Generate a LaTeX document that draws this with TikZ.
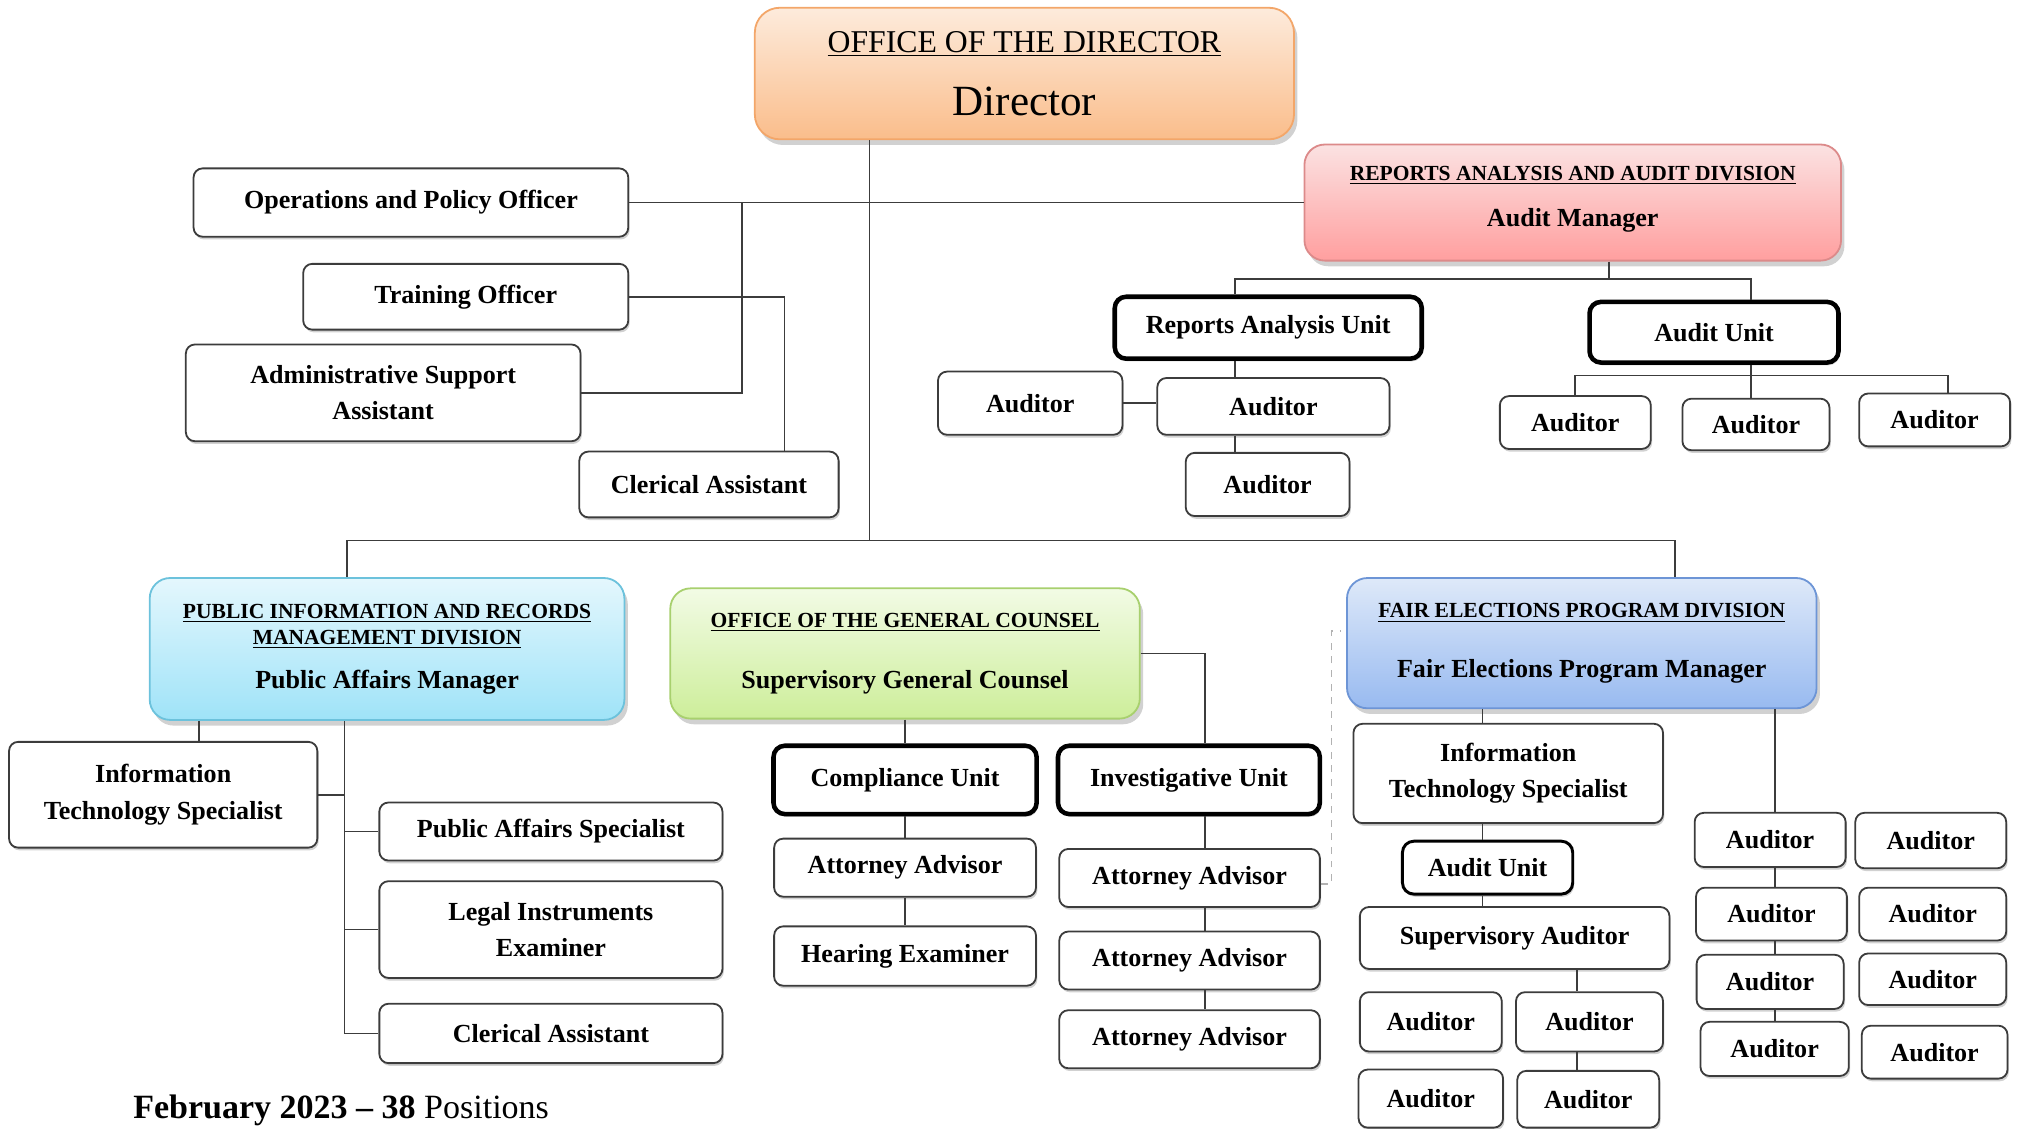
\documentclass[tikz,border=0pt]{standalone}
\usepackage{fontspec}
\setmainfont{Liberation Serif}
\usepackage{xcolor}
\usetikzlibrary{shadows}
\definecolor{linegray}{HTML}{3C3C3C}
\definecolor{dirtop}{HTML}{FDEBDC}
\definecolor{dirbot}{HTML}{FABD8B}
\definecolor{dirline}{HTML}{F3A669}
\definecolor{raadtop}{HTML}{FBE2E2}
\definecolor{raadbot}{HTML}{FF9F9F}
\definecolor{raadline}{HTML}{DC8A8A}
\definecolor{pirtop}{HTML}{E4F7FD}
\definecolor{pirbot}{HTML}{9FE3F8}
\definecolor{pirline}{HTML}{6CC2DC}
\definecolor{ogctop}{HTML}{F2FBE5}
\definecolor{ogcbot}{HTML}{CDEE9A}
\definecolor{ogcline}{HTML}{A8D06E}
\definecolor{feptop}{HTML}{DEE9F9}
\definecolor{fepbot}{HTML}{98BAF0}
\definecolor{fepline}{HTML}{6D95D6}

\begin{document}
\begin{tikzpicture}[
    x=0.02cm, y=-0.02cm,
    dims/.style 2 args={minimum width=#1cm, minimum height=#2cm},
    posbox/.style={rectangle, rounded corners=4pt,
                   draw=linegray, line width=0.8pt, fill=white,
                   font=\fontsize{11.5}{16}\selectfont\bfseries, align=center, inner sep=2pt,
                   drop shadow={shadow xshift=0.6pt, shadow yshift=-1.2pt, opacity=0.3, fill=black!60}},
    unitbox/.style={posbox, draw=black, line width=2pt, rounded corners=5pt},
    divbox/.style={rectangle, rounded corners=9pt, line width=0.8pt,
                   align=center, inner sep=2pt,
                   drop shadow={shadow xshift=1.5pt, shadow yshift=-2.5pt, opacity=0.3, fill=black!60}},
    link/.style={draw=linegray, line width=0.8pt},
    dlink/.style={draw=black!30, line width=0.8pt, dashed},
  ]
    \useasboundingbox (0,0) rectangle (1568,875);

    % director and staff
    \node[divbox, draw=dirline, top color=dirtop, bottom color=dirbot, rounded corners=11pt,
          dims={8.36}{2.04}, font=\fontsize{14}{28}\selectfont] (dir) at (794,57)
          {\underline{OFFICE OF THE DIRECTOR}\\{\fontsize{19}{28}\selectfont Director}};
    \node[posbox, dims={6.74}{1.06}] (ops)   at (318.5,157) {Operations and Policy Officer};
    \node[posbox, dims={5.04}{1.02}] (train) at (361,230)   {Training Officer};
    \node[posbox, dims={6.12}{1.5}]  (admin) at (297,304.5) {Administrative Support\\Assistant};
    \node[posbox, dims={4.02}{1.02}] (cler1) at (549.5,375.5) {Clerical Assistant};

    % reports analysis and audit
    \node[divbox, draw=raadline, top color=raadtop, bottom color=raadbot,
          dims={8.32}{1.8}, font=\fontsize{9.5}{20.5}\selectfont\bfseries] (raad) at (1219,157)
          {\underline{REPORTS ANALYSIS AND AUDIT DIVISION}\\{\fontsize{11.5}{20.5}\selectfont Audit Manager}\\[-15pt]};
    \node[unitbox, dims={4.76}{0.96}] (rau) at (983,254)    {Reports Analysis Unit};
    \node[unitbox, dims={3.86}{0.94}] (au1) at (1328.5,257.5) {Audit Unit};
    \node[posbox, dims={2.86}{0.98}] (ra1) at (798.5,312.5) {Auditor};
    \node[posbox, dims={3.6}{0.88}]  (ra2) at (987,315)     {Auditor};
    \node[posbox, dims={2.54}{0.98}] (ra3) at (982.5,375.5) {Auditor};
    \node[posbox, dims={2.34}{0.82}] (aud1) at (1221,327.5) {Auditor};
    \node[posbox, dims={2.28}{0.8}]  (aud2) at (1361,329)   {Auditor};
    \node[posbox, dims={2.34}{0.82}] (aud3) at (1499.5,325.5) {Auditor};

    % public information
    \node[divbox, draw=pirline, top color=pirtop, bottom color=pirbot,
          dims={7.36}{2.2}, font=\fontsize{9.5}{11.4}\selectfont\bfseries] (pirmd) at (300,503)
          {\underline{PUBLIC INFORMATION AND RECORDS}\\\underline{MANAGEMENT DIVISION}\\[8pt]{\fontsize{11.5}{11.4}\selectfont Public Affairs Manager}};
    \node[posbox, dims={4.78}{1.64}] (its1)  at (126.5,616) {Information\\Technology Specialist};
    \node[posbox, dims={5.32}{0.9}]  (pas)   at (427,644.5) {Public Affairs Specialist};
    \node[posbox, dims={5.32}{1.5}]  (lie)   at (427,720.5) {Legal Instruments\\Examiner};
    \node[posbox, dims={5.32}{0.92}] (cler2) at (427,801)   {Clerical Assistant};

    % general counsel
    \node[divbox, draw=ogcline, top color=ogctop, bottom color=ogcbot,
          dims={7.28}{2.02}, font=\fontsize{9.5}{26.7}\selectfont\bfseries] (ogc) at (701.5,506.5)
          {\underline{OFFICE OF THE GENERAL COUNSEL}\\{\fontsize{11.5}{26.7}\selectfont Supervisory General Counsel}};
    \node[unitbox, dims={4.08}{1.06}] (cu)  at (701.5,604.5) {Compliance Unit};
    \node[posbox, dims={4.06}{0.9}]   (aac) at (701.5,672.5) {Attorney Advisor};
    \node[posbox, dims={4.06}{0.92}]  (he)  at (701.5,741)   {Hearing Examiner};
    \node[unitbox, dims={4.06}{1.06}] (iu)  at (921.5,604.5) {Investigative Unit};
    \node[posbox, dims={4.04}{0.9}]   (aa1) at (922,680.5)   {Attorney Advisor};
    \node[posbox, dims={4.04}{0.9}]   (aa2) at (922,744.5)   {Attorney Advisor};
    \node[posbox, dims={4.04}{0.9}]   (aa3) at (922,805.5)   {Attorney Advisor};

    % fair elections
    \node[divbox, draw=fepline, top color=feptop, bottom color=fepbot,
          dims={7.28}{2.02}, font=\fontsize{9.5}{26.4}\selectfont\bfseries] (fepd) at (1226,498.5)
          {\underline{FAIR ELECTIONS PROGRAM DIVISION}\\{\fontsize{11.5}{26.4}\selectfont Fair Elections Program Manager}};
    \node[posbox, dims={4.8}{1.54}]  (its2) at (1169,599.5) {Information\\Technology Specialist};
    \node[unitbox, line width=1.3pt, dims={2.64}{0.82}] (fau) at (1153,672.5) {Audit Unit};
    \node[posbox, dims={4.8}{0.96}]  (sa)   at (1174,727)   {Supervisory Auditor};
    \node[posbox, dims={2.2}{0.92}]  (fa1)  at (1109,792)   {Auditor};
    \node[posbox, dims={2.28}{0.92}] (fa2)  at (1232,792)   {Auditor};
    \node[posbox, dims={2.24}{0.9}]  (fa3)  at (1109,851.5) {Auditor};
    \node[posbox, dims={2.2}{0.88}]  (fa4)  at (1231,852)   {Auditor};
    \node[posbox, dims={2.34}{0.84}] (ca1)  at (1372,651)   {Auditor};
    \node[posbox, dims={2.34}{0.82}] (ca2)  at (1373,708.5) {Auditor};
    \node[posbox, dims={2.28}{0.84}] (ca3)  at (1372,761)   {Auditor};
    \node[posbox, dims={2.3}{0.84}]  (ca4)  at (1375.5,813) {Auditor};
    \node[posbox, dims={2.34}{0.86}] (cb1)  at (1496.5,651.5) {Auditor};
    \node[posbox, dims={2.28}{0.82}] (cb2)  at (1498,708.5) {Auditor};
    \node[posbox, dims={2.28}{0.8}]  (cb3)  at (1498,759)   {Auditor};
    \node[posbox, dims={2.26}{0.82}] (cb4)  at (1499.5,815.5) {Auditor};

    \node[anchor=base west, inner sep=0pt, font=\fontsize{15}{18}\selectfont] (note) at (103,867)
          {\textbf{February 2023 – 38} Positions};

    % junction points
    \coordinate (hub) at (674,419);
    \coordinate (bl)  at (269,419);
    \coordinate (br)  at (1298,419);
    \coordinate (j1)  at (575,157);
    \coordinate (rr)  at (1247,216);
    \coordinate (ab)  at (1357,291);
    \coordinate (rx)  at (957,0);
    \coordinate (px)  at (154,0);
    \coordinate (ps)  at (267,0);
    \coordinate (ix)  at (934,0);
    \coordinate (fx)  at (1149,0);
    \coordinate (gx)  at (1222,0);
    \coordinate (cx)  at (1376,0);
    \coordinate (dz)  at (1039,489);

    % top level
    \draw[link] (hub |- dir.south) -- (hub);
    \draw[link] (ops) -- (raad);
    \draw[link] (admin.east) -| (j1);
    \draw[link] (train.east) -| ([xshift=1.17cm]cler1.north);
    \draw[link] (pirmd.north -| bl) -- (bl) -- (br) -- (fepd.north -| br);

    % reports analysis and audit
    \draw[link] (raad.south -| rr) -- (rr);
    \draw[link] ([xshift=-0.52cm]rau.north) |- (rr) -| ([xshift=0.57cm]au1.north);
    \draw[link] (rau.south -| rx) -- (ra2.north -| rx);
    \draw[link] (ra2.south -| rx) -- (ra3.north -| rx);
    \draw[link] (ra1.east) -- (ra1.east -| ra2.west);
    \draw[link] (au1.south -| ab) -- (ab);
    \draw[link] (aud1.north) |- (ab) -| ([xshift=0.21cm]aud3.north);
    \draw[link] (ab) -- (aud2.north -| ab);

    % public information
    \draw[link] (pirmd.south -| px) -- (its1.north -| px);
    \draw[link] (pirmd.south -| ps) |- (cler2.west);
    \draw[link] (its1.east) -- (its1.east -| ps);
    \draw[link] (pas.west) -- (pas.west -| ps);
    \draw[link] (lie.west) -- (lie.west -| ps);

    % general counsel
    \draw[link] (ogc) -- (cu);
    \draw[link] (cu) -- (aac);
    \draw[link] (aac) -- (he);
    \draw[link] (ogc.east) -| (iu.north -| ix);
    \draw[link] (iu.south -| ix) -- (aa1.north -| ix);
    \draw[link] (aa1.south -| ix) -- (aa2.north -| ix);
    \draw[link] (aa2.south -| ix) -- (aa3.north -| ix);
    \draw[dlink] ([yshift=-0.09cm]aa1.east) -| ([xshift=-0.14cm]dz) -- (dz);

    % fair elections
    \draw[link] (fepd.south -| fx) -- (its2.north -| fx);
    \draw[link] (its2.south -| fx) -- (fau.north -| fx);
    \draw[link] (fau.south -| fx) -- (sa.north -| fx);
    \draw[link] (sa.south -| gx) -- (fa2.north -| gx);
    \draw[link] (fa2.south -| gx) -- (fa4.north -| gx);
    \draw[link] (fepd.south -| cx) -- (ca1.north -| cx);
    \draw[link] (ca1.south -| cx) -- (ca2.north -| cx);
    \draw[link] (ca2.south -| cx) -- (ca3.north -| cx);
    \draw[link] (ca3.south -| cx) -- (ca4.north -| cx);
  \end{tikzpicture}
\end{document}
